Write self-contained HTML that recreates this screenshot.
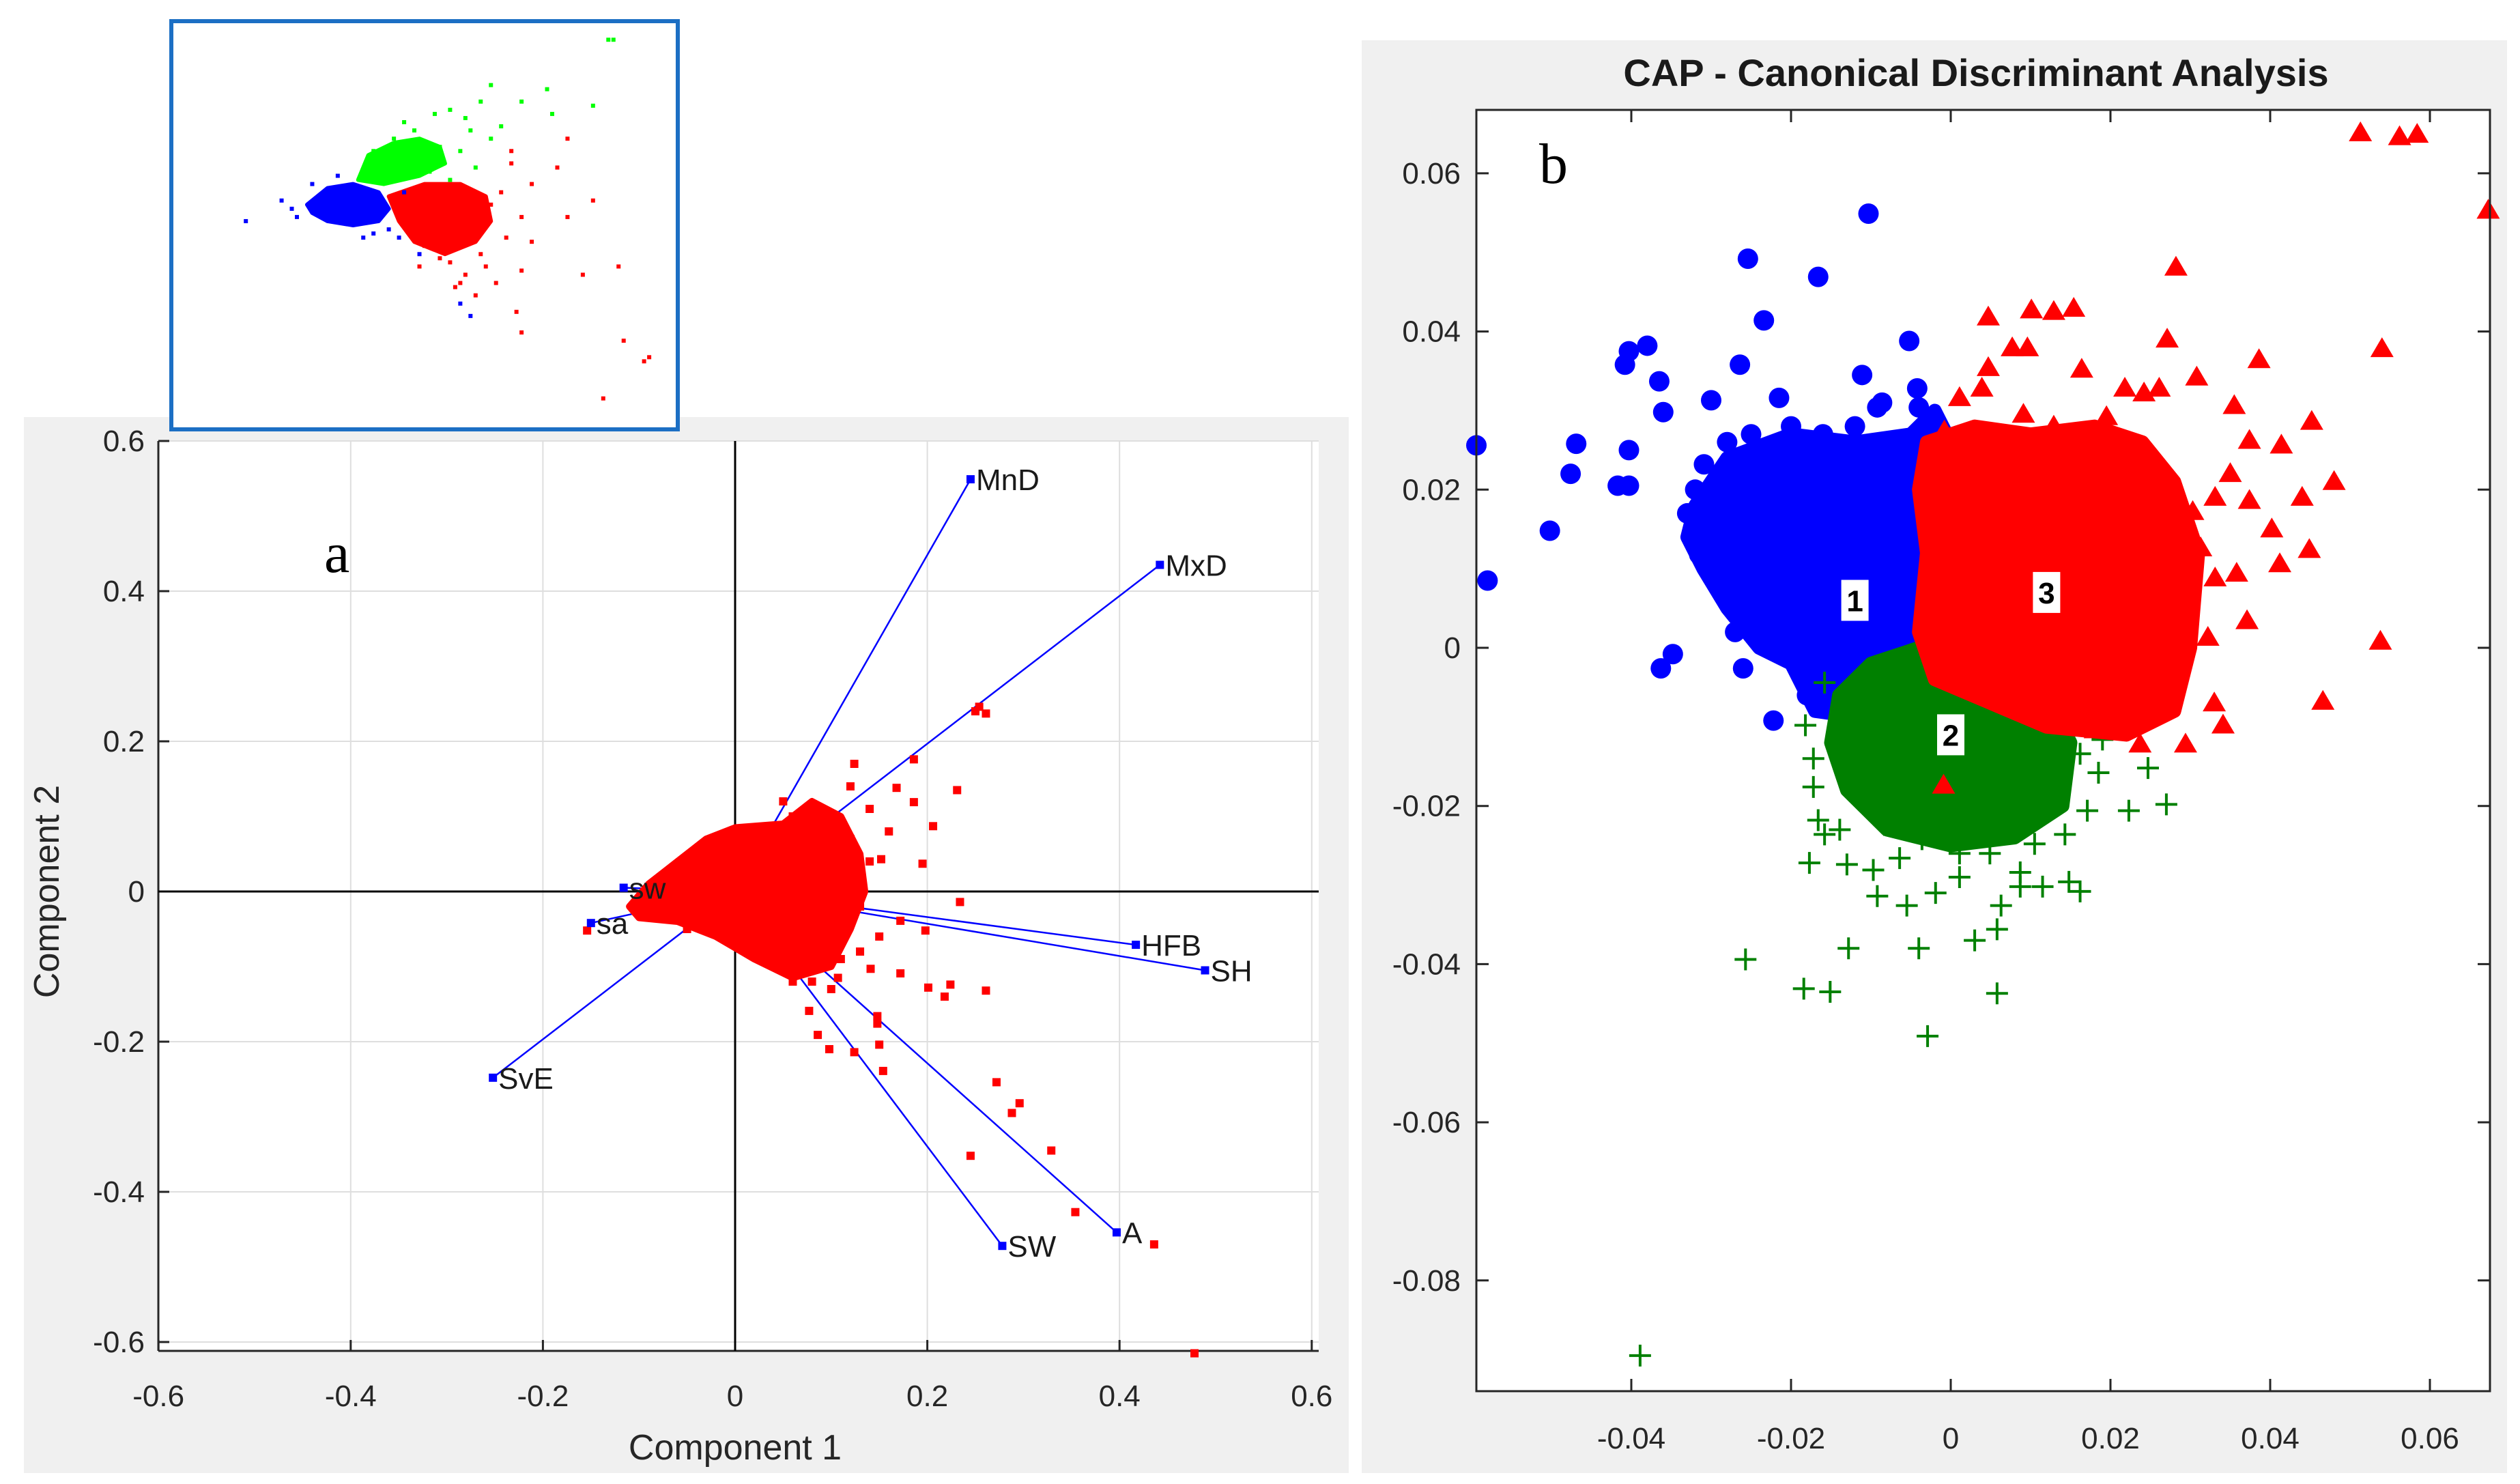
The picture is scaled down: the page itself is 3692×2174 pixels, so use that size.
<!DOCTYPE html>
<html><head><meta charset="utf-8"><style>
html,body{margin:0;padding:0;background:#fff;}
svg{display:block;font-family:"Liberation Sans",sans-serif;}
</style></head><body>
<svg id="fig" width="3692" height="2174" viewBox="0 0 3692 2174" xmlns="http://www.w3.org/2000/svg">
<rect x="35" y="611" width="1941" height="1547" fill="#f0f0f0"/>
<rect x="232" y="646" width="1700" height="1333" fill="#fff"/>
<rect x="1995" y="59" width="1678" height="2099" fill="#f0f0f0"/>
<rect x="2163" y="161" width="1485" height="1877" fill="#fff"/>
<g id="gA"></g>
<g id="gB"></g>
<rect x="251" y="31" width="742" height="598" fill="#fff" stroke="#1c6fc4" stroke-width="6"/>
<g id="gI"></g>
<text x="475" y="838" font-family="Liberation Serif,serif" font-size="84">a</text>
<text x="2255" y="268" font-family="Liberation Serif,serif" font-size="84">b</text>
<text x="2895" y="126" text-anchor="middle" font-size="56" font-weight="bold" fill="#1a1a1a">CAP - Canonical Discriminant Analysis</text>
<text x="1077" y="2138" text-anchor="middle" font-size="52" fill="#262626">Component 1</text>
<text x="86" y="1306" text-anchor="middle" font-size="52" fill="#262626" transform="rotate(-90 86 1306)">Component 2</text>
</svg>
<script>
// ---------- Panel a data ----------
const aTicks = [-0.6,-0.4,-0.2,0,0.2,0.4,0.6];
const aTickLabels = ["-0.6","-0.4","-0.2","0","0.2","0.4","0.6"];
const vecNames = ["MnD","MxD","HFB","SH","A","SW","SvE","sa","sw"];
const vecX = [0.245,0.442,0.417,0.489,0.397,0.278,-0.252,-0.15,-0.116];
const vecY = [0.549,0.435,-0.071,-0.105,-0.454,-0.472,-0.248,-0.042,0.005];
const aRedX = [0.478,0.436,0.354,0.329,0.296,0.288,0.272,0.245,0.261,0.224,0.218,0.201,0.154,0.15,0.148,0.124,0.098,0.086,0.254,0.261,0.231,0.206,0.195,0.186,0.186,0.124,0.168,0.152,0.234,0.198,0.172,0.172,0.141,0.107,-0.154,0.077,0.148,0.25,0.14,0.12,0.16,0.1,0.11,0.13,0.09,0.06,0.12,0.13,0.1,0.08,0.05,-0.05,0.14,0.11,0.15,0.06];
const aRedY = [-0.615,-0.47,-0.427,-0.345,-0.282,-0.295,-0.254,-0.352,-0.132,-0.124,-0.14,-0.128,-0.239,-0.204,-0.176,-0.214,-0.21,-0.191,0.246,0.237,0.135,0.087,0.037,0.176,0.119,0.17,0.138,0.043,-0.014,-0.052,-0.039,-0.109,-0.103,-0.115,-0.052,-0.159,-0.166,0.24,0.11,0.14,0.08,-0.13,0.06,-0.08,0.1,-0.12,0.07,-0.02,0.1,-0.12,0.12,-0.05,0.04,-0.09,-0.06,0.1];
const aCoreX = [-0.11,-0.09,-0.06,-0.03,0.0,0.05,0.08,0.11,0.13,0.135,0.12,0.1,0.06,0.02,-0.02,-0.06,-0.1];
const aCoreY = [-0.02,0.01,0.04,0.07,0.085,0.09,0.12,0.1,0.05,0.0,-0.05,-0.1,-0.115,-0.09,-0.06,-0.04,-0.035];

// ---------- Panel b data ----------
const bXTicks = [-0.04,-0.02,0,0.02,0.04,0.06];
const bXTickLabels = ["-0.04","-0.02","0","0.02","0.04","0.06"];
const bYTicks = [-0.08,-0.06,-0.04,-0.02,0,0.02,0.04,0.06];
const bYTickLabels = ["-0.08","-0.06","-0.04","-0.02","0","0.02","0.04","0.06"];
const blueX = [-0.0594,-0.058,-0.0502,-0.0476,-0.0469,-0.0417,-0.0403,-0.0403,-0.0408,-0.0403,-0.038,-0.0365,-0.036,-0.0363,-0.0348,-0.0254,-0.0234,-0.0166,-0.0103,-0.0052,-0.0111,-0.0042,-0.0264,-0.03,-0.0309,-0.031,-0.0315,-0.0285,-0.026,-0.0222,-0.0215,-0.0092,-0.0086,-0.004,-0.033,-0.032,-0.028,-0.025,-0.02,-0.016,-0.012,-0.008,-0.018,-0.014,-0.012,-0.008,-0.024,-0.027,-0.031,-0.029];
const blueY = [0.0256,0.0085,0.0148,0.022,0.0258,0.0205,0.0205,0.025,0.0358,0.0375,0.0382,0.0337,0.0298,-0.0026,-0.0008,0.0492,0.0414,0.0469,0.0549,0.0388,0.0345,0.0328,0.0358,0.0313,0.0232,0.016,0.0118,0.007,-0.0026,-0.0092,0.0316,0.0304,0.031,0.0304,0.017,0.02,0.026,0.027,0.028,0.027,0.028,0.025,-0.006,-0.008,-0.009,-0.006,0.004,0.002,0.013,0.021];
const blueCoreX = [-0.032,-0.028,-0.02,-0.012,-0.005,-0.002,0,-0.002,-0.001,-0.002,-0.004,-0.01,-0.017,-0.02,-0.024,-0.028,-0.031,-0.033];
const blueCoreY = [0.018,0.024,0.027,0.026,0.027,0.03,0.026,0.02,0.01,0.0,-0.006,-0.009,-0.008,-0.002,0.0,0.005,0.01,0.014];
const greenX = [-0.0257,-0.0184,-0.0151,-0.0128,-0.004,-0.0029,0.0058,-0.0389,0.003,0.0058,0.0063,-0.0092,-0.0055,-0.0019,-0.0177,-0.013,-0.0097,-0.0064,0.0011,0.0087,0.0115,0.0162,0.0148,-0.0172,-0.0166,-0.0139,-0.0172,-0.0182,-0.0158,0.027,0.0247,0.0223,0.0185,0.0171,0.0143,0.0105,0.0087,0.0011,-0.0036,0.0162,0.0115,-0.0083,-0.012,-0.0139,0.0049,-0.0158,0.019];
const greenY = [-0.0394,-0.0431,-0.0435,-0.038,-0.038,-0.0491,-0.0437,-0.0895,-0.037,-0.0356,-0.0326,-0.0314,-0.0326,-0.031,-0.0272,-0.0274,-0.0281,-0.0266,-0.029,-0.0302,-0.0302,-0.0308,-0.0296,-0.0176,-0.0218,-0.023,-0.014,-0.0098,-0.0044,-0.0198,-0.0152,-0.0206,-0.0158,-0.0206,-0.0236,-0.0248,-0.0284,-0.026,-0.0242,-0.0134,-0.0152,-0.0224,-0.0164,-0.0116,-0.026,-0.0236,-0.0116];
const greenCoreX = [-0.014,-0.01,-0.004,0.004,0.012,0.015,0.014,0.008,0,-0.008,-0.013,-0.015];
const greenCoreY = [-0.006,-0.002,0.0,-0.002,-0.006,-0.012,-0.02,-0.024,-0.025,-0.023,-0.018,-0.012];
const redX = [0.0513,0.0562,0.0584,0.0673,0.0282,0.054,0.0386,0.0271,0.0047,0.0101,0.0129,0.0154,0.0077,0.0096,0.0047,0.0164,0.0218,0.0242,0.0261,0.0308,0.0355,0.0452,0.048,0.044,0.0412,0.0449,0.0402,0.0371,0.0322,0.0538,0.0466,0.033,0.0341,0.0294,0.0237,0.0195,0.0091,0.0129,0.0374,0.0414,0.035,0.0331,0.0374,0.0303,0.0313,0.0358,0.0331,0.0011,-0.0008,0.0039,0.0266,0.0257,0.0275,0.0218,0.0181,-0.0009];
const redY = [0.0651,0.0646,0.0649,0.0553,0.0481,0.0378,0.0364,0.039,0.0418,0.0427,0.0425,0.0429,0.0379,0.0379,0.0354,0.0352,0.0328,0.0322,0.0328,0.0342,0.0306,0.0286,0.021,0.019,0.0106,0.0124,0.015,0.0034,0.0013,0.0008,-0.0068,-0.007,-0.0098,-0.0122,-0.0122,0.0292,0.0295,0.028,0.0262,0.0256,0.022,0.019,0.0186,0.0172,0.0126,0.0094,0.0088,0.0316,0.0274,0.0328,0.0166,0.004,-0.002,-0.0068,-0.0104,-0.0174];
const redCoreX = [-0.003,0.003,0.01,0.018,0.024,0.028,0.031,0.03,0.028,0.022,0.012,0.005,-0.002,-0.004,-0.003,-0.004];
const redCoreY = [0.026,0.028,0.027,0.028,0.026,0.021,0.012,0.0,-0.008,-0.011,-0.010,-0.007,-0.004,0.002,0.012,0.02];
const clusterLabels = ["1","2","3"];
const clusterLabelX = [-0.012,0,0.012];
const clusterLabelY = [0.006,-0.011,0.007];

// ---------- Inset data (normalized) ----------
const inBlueU = [0.15,0.24,0.49,0.57,0.59,0.22,0.25,0.45,0.40,0.28,0.33,0.38,0.43,0.46];
const inBlueV = [0.51,0.54,0.43,0.31,0.28,0.56,0.52,0.47,0.48,0.60,0.62,0.47,0.49,0.58];
const inBlueCoreU = [0.27,0.31,0.36,0.41,0.43,0.41,0.36,0.31,0.28];
const inBlueCoreV = [0.55,0.59,0.60,0.58,0.54,0.51,0.50,0.51,0.53];
const inGreenU = [0.63,0.69,0.75,0.74,0.83,0.86,0.87,0.55,0.59,0.63,0.46,0.58,0.61,0.52,0.48,0.53,0.57,0.44,0.40,0.65,0.60,0.51,0.55];
const inGreenV = [0.84,0.80,0.77,0.83,0.79,0.95,0.95,0.78,0.73,0.71,0.75,0.76,0.80,0.77,0.73,0.69,0.68,0.71,0.68,0.74,0.64,0.63,0.61];
const inGreenCoreU = [0.37,0.39,0.44,0.49,0.53,0.54,0.49,0.42];
const inGreenCoreV = [0.61,0.67,0.70,0.71,0.69,0.65,0.62,0.60];
const inRedU = [0.69,0.76,0.78,0.83,0.78,0.71,0.69,0.64,0.68,0.69,0.81,0.88,0.89,0.94,0.93,0.85,0.55,0.57,0.50,0.61,0.67,0.67,0.60,0.62,0.66,0.63,0.58,0.53,0.49,0.71,0.65,0.59,0.56];
const inRedV = [0.52,0.64,0.71,0.56,0.52,0.46,0.39,0.36,0.29,0.24,0.38,0.40,0.22,0.18,0.17,0.08,0.41,0.36,0.45,0.43,0.68,0.65,0.33,0.40,0.47,0.55,0.38,0.42,0.40,0.60,0.58,0.49,0.35];
const inRedCoreU = [0.43,0.50,0.57,0.62,0.63,0.60,0.54,0.48,0.45];
const inRedCoreV = [0.57,0.60,0.60,0.57,0.51,0.46,0.43,0.46,0.51];

const NS = "http://www.w3.org/2000/svg";
function mk(parent, tag, attrs) {
  const e = document.createElementNS(NS, tag);
  for (const k in attrs) e.setAttribute(k, attrs[k]);
  parent.appendChild(e);
  return e;
}
const lx = v => 1077 + v * 1408;
const ly = v => 1306 - v * 1100;
const rx = v => 2858 + v * 11700;
const ry = v => 949 - v * 11585;
const ix = u => 248 + u * 748;
const iy = v => 632 - v * 604;

// ---------- Panel a ----------
const gA = document.getElementById('gA');
aTicks.forEach((t, i) => {
  const g1 = mk(gA, 'line', {x1: lx(t), x2: lx(t), y1: 646, y2: 1979, stroke: '#dedede', 'stroke-width': 2});
  
  
  const g2 = mk(gA, 'line', {x1: 232, x2: 1932, y1: ly(t), y2: ly(t), stroke: '#dedede', 'stroke-width': 2});
  
  
  const tx = mk(gA, 'text', {x: lx(t), y: 2060, 'text-anchor': 'middle', 'font-size': 44, fill: '#262626'});
  tx.textContent = aTickLabels[i];
  
  
  const ty = mk(gA, 'text', {x: 212, y: ly(t) + 15, 'text-anchor': 'end', 'font-size': 44, fill: '#262626'});
  ty.textContent = aTickLabels[i];
  
  
  const tk = mk(gA, 'line', {x1: lx(t), x2: lx(t), y1: 1979, y2: 1963, stroke: '#262626', 'stroke-width': 3});
  
  
  const tk2 = mk(gA, 'line', {x1: 232, x2: 248, y1: ly(t), y2: ly(t), stroke: '#262626', 'stroke-width': 3});
  
  
});
let e;
e = mk(gA, 'line', {x1: 232, x2: 232, y1: 646, y2: 1979, stroke: '#262626', 'stroke-width': 3});
 
e = mk(gA, 'line', {x1: 232, x2: 1932, y1: 1979, y2: 1979, stroke: '#262626', 'stroke-width': 3});
 
e = mk(gA, 'line', {x1: lx(0), x2: lx(0), y1: 646, y2: 1979, stroke: '#000', 'stroke-width': 3});
 
e = mk(gA, 'line', {x1: 232, x2: 1932, y1: ly(0), y2: ly(0), stroke: '#000', 'stroke-width': 3});
 
vecNames.forEach((n, i) => {
  const l = mk(gA, 'line', {x1: lx(0), y1: ly(0), x2: lx(vecX[i]), y2: ly(vecY[i]), stroke: '#0000ff', 'stroke-width': 2.5});
  
  
});
e = mk(gA, 'polygon', {points: aCoreX.map((x, i) => lx(x) + ',' + ly(aCoreY[i])).join(' '), fill: '#ff0000', stroke: '#ff0000', 'stroke-width': 10, 'stroke-linejoin': 'round'});
 
aRedX.forEach((x, i) => {
  const r = mk(gA, 'rect', {x: lx(x) - 6, y: ly(aRedY[i]) - 6, width: 12, height: 12, fill: '#ff0000'});
  
  
});
vecNames.forEach((n, i) => {
  const m = mk(gA, 'rect', {x: lx(vecX[i]) - 6, y: ly(vecY[i]) - 6, width: 12, height: 12, fill: '#0000ff'});
  
  
  const t = mk(gA, 'text', {x: lx(vecX[i]) + 8, y: ly(vecY[i]) + 16, 'font-size': 44, fill: '#1a1a1a'});
  t.textContent = n;
  
  
});

// ---------- Panel b ----------
const gB = document.getElementById('gB');
function core(xs, ys, col, name) {
  const p = mk(gB, 'polygon', {points: xs.map((x, i) => rx(x) + ',' + ry(ys[i])).join(' '), fill: col, stroke: col, 'stroke-width': 20, 'stroke-linejoin': 'round'});
  
  
}
core(blueCoreX, blueCoreY, '#0000ff', 'cluster-1-core');
blueX.forEach((x, i) => {
  const c = mk(gB, 'circle', {cx: rx(x), cy: ry(blueY[i]), r: 15, fill: '#0000ff'});
  
  
});
core(greenCoreX, greenCoreY, '#008000', 'cluster-2-core');
greenX.forEach((x, i) => {
  const X = rx(x), Y = ry(greenY[i]);
  const p = mk(gB, 'path', {d: `M${X-16},${Y}H${X+16}M${X},${Y-16}V${Y+16}`, stroke: '#008000', 'stroke-width': 4, fill: 'none'});
  
  
});
core(redCoreX, redCoreY, '#ff0000', 'cluster-3-core');
redX.forEach((x, i) => {
  const X = rx(x), Y = ry(redY[i]);
  const p = mk(gB, 'polygon', {points: `${X},${Y-17} ${X+17},${Y+12} ${X-17},${Y+12}`, fill: '#ff0000'});
  
  
});
clusterLabels.forEach((t, i) => {
  const X = rx(clusterLabelX[i]), Y = ry(clusterLabelY[i]);
  const r = mk(gB, 'rect', {x: X - 20, y: Y - 30, width: 40, height: 60, fill: '#fff'});
  
  
  const tx = mk(gB, 'text', {x: X, y: Y + 16, 'text-anchor': 'middle', 'font-size': 44, 'font-weight': 'bold', fill: '#000'});
  tx.textContent = t;
  
  
});
e = mk(gB, 'rect', {x: 2163, y: 161, width: 1485, height: 1877, fill: 'none', stroke: '#262626', 'stroke-width': 3});
 
bXTicks.forEach((t, i) => {
  const X = rx(t);
  const p = mk(gB, 'path', {d: `M${X},2038V2020M${X},161V179`, stroke: '#262626', 'stroke-width': 3});
  
  
  const tx = mk(gB, 'text', {x: X, y: 2122, 'text-anchor': 'middle', 'font-size': 44, fill: '#262626'});
  tx.textContent = bXTickLabels[i];
  
  
});
bYTicks.forEach((t, i) => {
  const Y = ry(t);
  const p = mk(gB, 'path', {d: `M2163,${Y}H2181M3648,${Y}H3630`, stroke: '#262626', 'stroke-width': 3});
  
  
  const tx = mk(gB, 'text', {x: 2140, y: Y + 15, 'text-anchor': 'end', 'font-size': 44, fill: '#262626'});
  tx.textContent = bYTickLabels[i];
  
  
});

// ---------- Inset ----------
const gI = document.getElementById('gI');
function icore(us, vs, col, name) {
  const p = mk(gI, 'polygon', {points: us.map((u, i) => ix(u) + ',' + iy(vs[i])).join(' '), fill: col, stroke: col, 'stroke-width': 6, 'stroke-linejoin': 'round'});
  
  
}
function idots(us, vs, col, name) {
  us.forEach((u, i) => {
    const r = mk(gI, 'rect', {x: ix(u) - 3, y: iy(vs[i]) - 3, width: 6, height: 6, fill: col});
    
    
  });
}
icore(inRedCoreU, inRedCoreV, '#ff0000', 'inset-red-core');
idots(inRedU, inRedV, '#ff0000', 'inset-red-point');
icore(inBlueCoreU, inBlueCoreV, '#0000ff', 'inset-blue-core');
idots(inBlueU, inBlueV, '#0000ff', 'inset-blue-point');
icore(inGreenCoreU, inGreenCoreV, '#00ff00', 'inset-green-core');
idots(inGreenU, inGreenV, '#00ff00', 'inset-green-point');
</script>
</body></html>
